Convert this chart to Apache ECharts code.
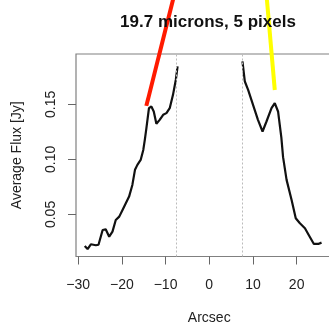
<!DOCTYPE html>
<html>
<head>
<meta charset="utf-8">
<script src="https://cdn.jsdelivr.net/npm/echarts@6/dist/echarts.min.js"></script>
<style>html,body{margin:0;padding:0;background:#fff}#c{width:329px;height:324px}</style>
</head>
<body>
<div id="c"></div>
<script>
var titleText = "19.7 microns, 5 pixels";
var xName = "Arcsec";
var yName = "Average Flux [Jy]";
var xTicks = [-30, -20, -10, 0, 10, 20, 30];
var yTicks = [0.05, 0.10, 0.15];
var slitEdges = [-7.5, 7.5];

var leftX = [-28.5,-27.85,-27.1,-25.95,-25.35,-24.4,-23.7,-22.9,-22.15,-21.4,-20.6,-19.85,-19.1,-18.35,-17.6,-17.0,-16.45,-15.7,-15.1,-14.75,-14.4,-13.8,-13.25,-12.7,-12.1,-11.35,-10.55,-9.8,-9.05,-8.3,-7.65,-7.25];
var leftY = [0.0214,0.0186,0.0229,0.0220,0.0225,0.0359,0.0365,0.0298,0.0344,0.045,0.048,0.0541,0.0602,0.0662,0.0768,0.0905,0.095,0.0995,0.1086,0.1177,0.1280,0.1465,0.148,0.1435,0.1323,0.1359,0.1405,0.142,0.1465,0.1586,0.1723,0.1844];
var rightX = [7.6,8.15,8.9,9.65,10.4,11.15,12.2,13.1,14.25,15.0,15.75,16.5,16.9,17.7,18.85,19.8,20.75,21.9,23.0,23.95,24.95,25.7];
var rightY = [0.1889,0.1707,0.1632,0.1541,0.145,0.1359,0.1253,0.1344,0.1465,0.1511,0.1435,0.12,0.102,0.0814,0.0632,0.0465,0.042,0.0375,0.0298,0.0232,0.0232,0.0244];
var redX = [-14.4, -7.6];
var redY = [0.1486, 0.256];
var yellowX = [15.0, 13.0];
var yellowY = [0.163, 0.254];

function pairs(xs, ys) { return xs.map(function (x, i) { return [x, ys[i]]; }); }

var FONT = "'Liberation Sans', Arial, Helvetica, sans-serif";
var chart = echarts.init(document.getElementById('c'), null, {renderer: 'canvas'});
chart.setOption({
  animation: false,
  backgroundColor: '#fff',
  title: {
    text: titleText, left: 203, top: 9, textAlign: 'center',
    textStyle: {fontFamily: FONT, fontSize: 17, fontWeight: 'bold', color: '#111'}
  },
  grid: {left: 76, top: 54, width: 266.5, height: 202.5, show: true, borderColor: '#808080', borderWidth: 1.2,
    containLabel: false, outerBoundsMode: 'none'},
  xAxis: {
    type: 'value', min: -30.5, max: 30.5, position: 'bottom',
    name: xName, nameLocation: 'middle', nameGap: 55,
    nameTextStyle: {fontFamily: FONT, fontSize: 14, color: '#222'},
    axisLine: {show: false, onZero: false},
    axisTick: {show: true, length: 8, lineStyle: {color: '#666'}, customValues: xTicks},
    axisLabel: {fontFamily: FONT, fontSize: 14, color: '#222', margin: 22, customValues: xTicks,
      formatter: function (v) { return v < 0 ? '\u2212' + (-v) : String(v); }},
    splitLine: {show: false}
  },
  yAxis: {
    type: 'value', min: 0.0118, max: 0.1957, position: 'left',
    name: yName, nameLocation: 'middle', nameGap: 52, nameRotate: 90,
    nameTextStyle: {fontFamily: FONT, fontSize: 14, color: '#222'},
    axisLine: {show: false, onZero: false},
    axisTick: {show: true, length: 8, lineStyle: {color: '#666'}, customValues: yTicks},
    axisLabel: {fontFamily: FONT, fontSize: 14, color: '#222', margin: 18, rotate: 90, customValues: yTicks,
      formatter: function (v) { return v.toFixed(2); }},
    splitLine: {show: false}
  },
  series: [
    {type: 'line', data: pairs(leftX, leftY), showSymbol: false, lineStyle: {color: '#111', width: 2.2}, z: 3,
     markLine: {silent: true, symbol: 'none', label: {show: false},
       lineStyle: {color: '#bbb', type: [2, 2], width: 1},
       data: slitEdges.map(function (x) { return {xAxis: x}; })}},
    {type: 'line', data: pairs(rightX, rightY), showSymbol: false, lineStyle: {color: '#111', width: 2.2}, z: 3},
    {type: 'line', data: pairs(redX, redY), showSymbol: false, clip: false, lineStyle: {color: '#ff1a00', width: 4, cap: 'butt'}, z: 5},
    {type: 'line', data: pairs(yellowX, yellowY), showSymbol: false, clip: false, lineStyle: {color: '#ffff00', width: 4, cap: 'butt'}, z: 5}
  ]
});
</script>
</body>
</html>
